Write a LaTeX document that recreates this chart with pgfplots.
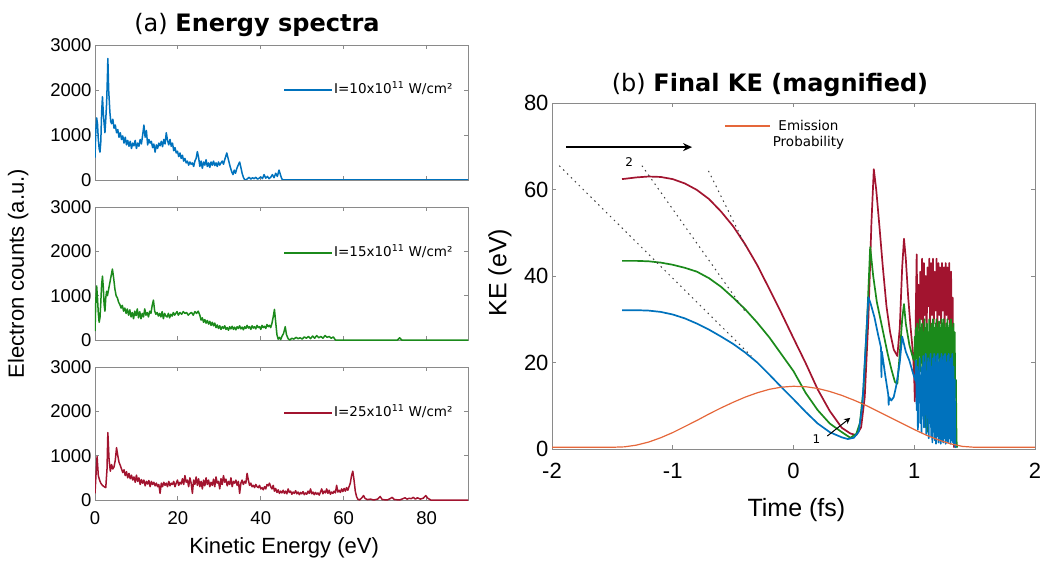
\documentclass[border=0pt]{standalone}
\usepackage{fontspec}
\setmainfont{Liberation Sans}
\newfontfamily\dejavu{DejaVu Sans}
\usepackage{pgfplots}
\usepackage{pgfplotstable}
\pgfplotsset{compat=1.18}
\usetikzlibrary{arrows.meta}
\definecolor{mblue}{HTML}{0072BD}
\definecolor{mgreen}{HTML}{1B8A1B}
\definecolor{mred}{HTML}{A2142F}
\definecolor{morange}{HTML}{E5673A}
\definecolor{axgray}{HTML}{8A8A8A}

\pgfplotstableread[row sep=\\]{x y\\
0.0 500\\ 0.2 1100\\ 0.4 1380\\ 0.6 1250\\ 0.8 900\\ 1.0 700\\ 1.2 620\\ 1.4 850\\ 1.6 1500\\ 1.8 1850\\ 2.0 1500\\ 2.2 1250\\ 2.4 1050\\ 2.6 1350\\ 2.8 1700\\ 3.0 2300\\ 3.1 2700\\ 3.3 2000\\ 3.6 1500\\ 3.8 1300\\ 4.0 1250\\ 4.3 1350\\ 4.6 1150\\ 4.9 1220\\ 5.2 1050\\ 5.5 1120\\ 5.8 950\\ 6.1 1050\\ 6.4 900\\ 6.7 980\\ 7.0 820\\ 7.3 950\\ 7.6 780\\ 7.9 880\\ 8.2 750\\ 8.5 860\\ 8.8 700\\ 9.1 820\\ 9.4 760\\ 9.7 880\\ 10.0 700\\ 10.3 820\\ 10.6 750\\ 10.9 900\\ 11.2 800\\ 11.5 1000\\ 11.8 1220\\ 12.1 950\\ 12.4 1100\\ 12.7 780\\ 13.0 900\\ 13.3 820\\ 13.6 860\\ 13.9 720\\ 14.2 800\\ 14.5 620\\ 14.8 780\\ 15.1 700\\ 15.4 820\\ 15.7 760\\ 16.0 860\\ 16.3 740\\ 16.6 900\\ 16.9 800\\ 17.2 1050\\ 17.5 880\\ 17.8 780\\ 18.1 900\\ 18.4 750\\ 18.7 820\\ 19.0 650\\ 19.3 720\\ 19.6 600\\ 19.9 640\\ 20.2 520\\ 20.5 600\\ 20.8 480\\ 21.1 550\\ 21.4 420\\ 21.7 480\\ 22.0 380\\ 22.3 420\\ 22.6 330\\ 22.9 400\\ 23.2 350\\ 23.5 380\\ 23.8 300\\ 24.1 420\\ 24.4 480\\ 24.7 630\\ 25.0 500\\ 25.3 300\\ 25.6 420\\ 25.9 260\\ 26.2 400\\ 26.5 330\\ 26.8 450\\ 27.1 300\\ 27.4 380\\ 27.7 280\\ 28.0 400\\ 28.3 330\\ 28.6 420\\ 28.9 320\\ 29.2 380\\ 29.5 300\\ 29.8 400\\ 30.1 330\\ 30.4 380\\ 30.7 420\\ 31.0 350\\ 31.3 450\\ 31.8 600\\ 32.2 450\\ 32.6 300\\ 33.0 180\\ 33.3 120\\ 33.6 220\\ 33.9 150\\ 34.2 250\\ 34.5 320\\ 34.9 400\\ 35.2 280\\ 35.5 150\\ 35.8 60\\ 36.1 10\\ 36.4 0\\ 36.8 30\\ 37.2 60\\ 37.6 20\\ 38.0 50\\ 38.4 30\\ 38.8 60\\ 39.2 20\\ 39.6 40\\ 40.0 70\\ 40.4 30\\ 40.8 120\\ 41.2 40\\ 41.6 80\\ 42.0 30\\ 42.4 60\\ 42.8 120\\ 43.2 50\\ 43.6 150\\ 44.0 80\\ 44.4 220\\ 44.8 100\\ 45.1 20\\ 45.5 0\\ 90 0\\
}\tblue

\pgfplotstableread[row sep=\\]{x y\\
0.0 200\\ 0.2 900\\ 0.4 1220\\ 0.6 950\\ 0.8 600\\ 1.0 400\\ 1.2 500\\ 1.4 850\\ 1.6 1250\\ 1.8 1440\\ 2.0 1200\\ 2.2 800\\ 2.4 650\\ 2.6 950\\ 2.8 1100\\ 3.0 1000\\ 3.3 1150\\ 3.6 1300\\ 3.9 1450\\ 4.2 1600\\ 4.5 1400\\ 4.8 1150\\ 5.1 1000\\ 5.4 950\\ 5.7 850\\ 6.0 800\\ 6.3 720\\ 6.6 780\\ 6.9 650\\ 7.2 720\\ 7.5 600\\ 7.8 700\\ 8.1 560\\ 8.4 680\\ 8.7 520\\ 9.0 620\\ 9.3 480\\ 9.6 650\\ 9.9 550\\ 10.2 700\\ 10.5 500\\ 10.8 640\\ 11.1 480\\ 11.4 600\\ 11.7 520\\ 12.0 700\\ 12.3 560\\ 12.6 620\\ 12.9 520\\ 13.2 650\\ 13.5 600\\ 13.8 780\\ 14.1 900\\ 14.4 650\\ 14.7 580\\ 15.0 620\\ 15.3 540\\ 15.6 600\\ 15.9 520\\ 16.2 640\\ 16.5 480\\ 16.8 600\\ 17.1 540\\ 17.4 520\\ 17.7 600\\ 18.0 500\\ 18.3 580\\ 18.6 540\\ 18.9 620\\ 19.2 560\\ 19.5 600\\ 19.8 640\\ 20.1 560\\ 20.5 620\\ 20.9 580\\ 21.3 640\\ 21.7 600\\ 22.1 620\\ 22.5 560\\ 22.9 600\\ 23.3 620\\ 23.7 560\\ 24.1 640\\ 24.5 600\\ 24.9 650\\ 25.3 560\\ 25.6 450\\ 25.9 500\\ 26.2 400\\ 26.5 460\\ 26.8 380\\ 27.1 440\\ 27.4 360\\ 27.7 420\\ 28.0 330\\ 28.3 400\\ 28.6 320\\ 28.9 380\\ 29.2 280\\ 29.5 340\\ 29.8 260\\ 30.1 320\\ 30.4 240\\ 30.7 300\\ 31.0 260\\ 31.3 320\\ 31.6 240\\ 31.9 280\\ 32.2 220\\ 32.5 300\\ 32.8 250\\ 33.1 310\\ 33.4 240\\ 33.7 290\\ 34.0 230\\ 34.3 300\\ 34.6 260\\ 34.9 320\\ 35.2 250\\ 35.5 290\\ 35.8 230\\ 36.1 300\\ 36.4 260\\ 36.7 330\\ 37.0 270\\ 37.3 300\\ 37.6 240\\ 37.9 320\\ 38.2 270\\ 38.5 300\\ 38.8 250\\ 39.1 330\\ 39.4 280\\ 39.7 300\\ 40.0 240\\ 40.3 330\\ 40.6 280\\ 40.9 310\\ 41.2 260\\ 41.5 350\\ 41.8 300\\ 42.1 330\\ 42.4 280\\ 42.7 380\\ 43.0 520\\ 43.3 690\\ 43.6 400\\ 43.9 120\\ 44.2 20\\ 44.5 60\\ 44.8 10\\ 45.1 80\\ 45.5 150\\ 45.9 300\\ 46.2 120\\ 46.6 30\\ 47.0 0\\ 47.5 40\\ 48.0 20\\ 48.5 60\\ 49.0 30\\ 49.5 50\\ 50.0 20\\ 50.5 70\\ 51.0 40\\ 51.5 80\\ 52.0 30\\ 52.5 90\\ 53.0 40\\ 53.5 100\\ 54.0 50\\ 54.5 80\\ 55.0 40\\ 55.5 100\\ 56.0 60\\ 56.5 80\\ 57.0 40\\ 57.5 70\\ 58.0 0\\ 73.0 0\\ 73.5 50\\ 74.0 0\\ 90 0\\
}\tgreen

\pgfplotstableread[row sep=\\]{x y\\
0.0 150\\ 0.2 500\\ 0.5 980\\ 0.8 550\\ 1.1 450\\ 1.4 380\\ 1.8 330\\ 2.2 300\\ 2.6 280\\ 2.9 700\\ 3.1 1520\\ 3.4 900\\ 3.7 650\\ 4.0 800\\ 4.3 700\\ 4.6 750\\ 4.9 900\\ 5.2 1180\\ 5.5 1000\\ 5.8 850\\ 6.1 780\\ 6.4 700\\ 6.7 620\\ 7.0 680\\ 7.3 550\\ 7.6 640\\ 7.9 500\\ 8.2 600\\ 8.5 480\\ 8.8 560\\ 9.1 450\\ 9.4 520\\ 9.7 400\\ 10.0 560\\ 10.3 420\\ 10.6 500\\ 10.9 350\\ 11.2 460\\ 11.5 380\\ 11.8 450\\ 12.1 320\\ 12.4 420\\ 12.7 360\\ 13.0 440\\ 13.3 300\\ 13.6 420\\ 13.9 350\\ 14.2 400\\ 14.5 320\\ 14.8 380\\ 15.1 300\\ 15.4 350\\ 15.7 150\\ 16.0 380\\ 16.3 300\\ 16.6 400\\ 16.9 330\\ 17.2 380\\ 17.5 300\\ 17.8 420\\ 18.1 320\\ 18.4 380\\ 18.7 350\\ 19.0 420\\ 19.3 300\\ 19.6 380\\ 19.9 450\\ 20.2 330\\ 20.5 400\\ 20.8 360\\ 21.1 480\\ 21.4 350\\ 21.7 550\\ 22.0 400\\ 22.3 450\\ 22.6 300\\ 22.9 500\\ 23.2 380\\ 23.5 150\\ 23.8 450\\ 24.1 350\\ 24.4 520\\ 24.7 330\\ 25.0 480\\ 25.3 300\\ 25.6 420\\ 25.9 250\\ 26.2 450\\ 26.5 320\\ 26.8 500\\ 27.1 350\\ 27.4 450\\ 27.7 300\\ 28.0 400\\ 28.3 330\\ 28.6 470\\ 28.9 300\\ 29.2 520\\ 29.5 380\\ 29.8 420\\ 30.1 250\\ 30.4 480\\ 30.7 350\\ 31.0 550\\ 31.3 400\\ 31.6 470\\ 31.9 320\\ 32.2 420\\ 32.5 350\\ 32.8 500\\ 33.1 300\\ 33.4 420\\ 33.7 380\\ 34.0 450\\ 34.3 330\\ 34.6 420\\ 34.9 150\\ 35.2 380\\ 35.5 450\\ 35.8 350\\ 36.1 420\\ 36.4 380\\ 36.7 600\\ 37.0 450\\ 37.3 330\\ 37.6 380\\ 37.9 300\\ 38.2 330\\ 38.5 280\\ 38.8 350\\ 39.1 300\\ 39.4 280\\ 39.7 330\\ 40.0 250\\ 40.3 280\\ 40.6 230\\ 40.9 300\\ 41.2 250\\ 41.5 350\\ 41.8 320\\ 42.1 380\\ 42.4 300\\ 42.7 250\\ 43.0 330\\ 43.3 200\\ 43.6 260\\ 43.9 170\\ 44.2 230\\ 44.5 150\\ 44.8 200\\ 45.1 160\\ 45.4 220\\ 45.7 150\\ 46.0 200\\ 46.3 140\\ 46.6 250\\ 46.9 170\\ 47.2 200\\ 47.5 130\\ 47.8 180\\ 48.1 150\\ 48.4 210\\ 48.7 140\\ 49.0 180\\ 49.3 120\\ 49.6 170\\ 49.9 140\\ 50.2 190\\ 50.5 120\\ 50.8 160\\ 51.1 130\\ 51.4 200\\ 51.7 150\\ 52.0 250\\ 52.3 140\\ 52.6 180\\ 52.9 120\\ 53.2 170\\ 53.5 130\\ 53.8 160\\ 54.1 110\\ 54.4 180\\ 54.7 250\\ 55.0 140\\ 55.3 200\\ 55.6 160\\ 55.9 250\\ 56.2 150\\ 56.5 220\\ 56.8 130\\ 57.1 180\\ 57.4 150\\ 57.7 200\\ 58.0 160\\ 58.3 330\\ 58.6 180\\ 58.9 220\\ 59.2 170\\ 59.5 250\\ 59.8 190\\ 60.1 260\\ 60.4 200\\ 60.7 280\\ 61.0 220\\ 61.3 300\\ 61.6 380\\ 61.9 550\\ 62.2 650\\ 62.5 450\\ 62.8 200\\ 63.1 80\\ 63.4 20\\ 63.8 0\\ 64.4 50\\ 64.8 100\\ 65.2 30\\ 65.8 10\\ 66.5 20\\ 67.2 0\\ 68.2 20\\ 68.8 80\\ 69.3 10\\ 70.5 0\\ 71.2 30\\ 71.7 60\\ 72.2 10\\ 73.5 0\\ 74.3 30\\ 74.8 50\\ 75.3 20\\ 75.8 40\\ 76.3 30\\ 76.8 60\\ 77.3 20\\ 77.8 50\\ 78.5 20\\ 79.2 40\\ 79.8 100\\ 80.3 40\\ 81.0 0\\ 90 0\\
}\tred

% ---- panel (b) ----
\pgfplotstableread[row sep=\\]{t k\\
-1.42 62.4\\ -1.3 62.8\\ -1.2 63.0\\ -1.1 62.9\\ -1.0 62.4\\ -0.9 61.4\\ -0.8 59.9\\ -0.7 57.8\\ -0.6 54.9\\ -0.5 51.5\\ -0.4 47.3\\ -0.3 42.5\\ -0.2 37.0\\ -0.1 31.4\\ 0.0 25.6\\ 0.1 19.9\\ 0.2 13.8\\ 0.3 8.8\\ 0.4 4.9\\ 0.47 3.6\\ 0.52 3.2\\ 0.56 5.0\\ 0.59 12\\ 0.62 30\\ 0.645 52\\ 0.665 64.7\\ 0.685 60\\ 0.71 52\\ 0.74 42\\ 0.77 33\\ 0.80 27\\ 0.83 23\\ 0.86 21.5\\ 0.88 28\\ 0.90 42\\ 0.915 48.6\\ 0.93 44\\ 0.95 35\\ 0.97 28\\ 0.99 22\\ 1.000 16\\ 1.005 11\\ 1.012 30\\ 1.020 45\\ 1.027 28\\ 1.035 38\\ 1.042 25\\ 1.050 41\\ 1.057 30\\ 1.065 44\\ 1.072 27\\ 1.080 43\\ 1.087 31\\ 1.095 40\\ 1.102 26\\ 1.110 42\\ 1.117 33\\ 1.125 44\\ 1.132 28\\ 1.140 43\\ 1.147 31\\ 1.155 44\\ 1.162 29\\ 1.170 41\\ 1.177 32\\ 1.185 44\\ 1.192 28\\ 1.200 43\\ 1.207 31\\ 1.215 42\\ 1.222 29\\ 1.230 43\\ 1.237 32\\ 1.245 42\\ 1.252 28\\ 1.260 43\\ 1.267 31\\ 1.275 42\\ 1.282 30\\ 1.290 43\\ 1.297 27\\ 1.305 41\\ 1.312 20\\ 1.318 35\\ 1.322 10\\ 1.326 3\\ 1.330 0.3\\
}\kred

\pgfplotstableread[row sep=\\]{t k\\
-1.42 43.5\\ -1.3 43.5\\ -1.2 43.4\\ -1.1 43.1\\ -1.0 42.6\\ -0.9 41.9\\ -0.8 41.0\\ -0.7 39.5\\ -0.6 37.5\\ -0.5 35.0\\ -0.4 32.3\\ -0.3 29.2\\ -0.2 25.8\\ -0.1 21.9\\ 0.0 18.0\\ 0.1 13.0\\ 0.2 9.0\\ 0.3 5.9\\ 0.4 3.9\\ 0.47 2.6\\ 0.52 3.5\\ 0.55 6\\ 0.58 14\\ 0.61 30\\ 0.635 46.7\\ 0.66 40\\ 0.69 34\\ 0.72 30\\ 0.75 26\\ 0.78 22\\ 0.81 18.5\\ 0.84 15.5\\ 0.86 15.1\\ 0.88 22\\ 0.90 30\\ 0.915 33.5\\ 0.93 29\\ 0.96 24\\ 0.99 21\\ 1.000 20.5\\ 1.005 26\\ 1.010 18\\ 1.015 28\\ 1.020 21\\ 1.025 29\\ 1.030 17\\ 1.035 27\\ 1.040 22\\ 1.045 30\\ 1.050 18\\ 1.055 28\\ 1.060 20\\ 1.065 29\\ 1.070 14\\ 1.075 27\\ 1.080 19\\ 1.085 30\\ 1.090 5\\ 1.095 28\\ 1.100 18\\ 1.105 29\\ 1.110 4\\ 1.115 27\\ 1.120 19\\ 1.125 30\\ 1.130 15\\ 1.135 28\\ 1.140 20\\ 1.145 29\\ 1.150 16\\ 1.155 30\\ 1.160 19\\ 1.165 28\\ 1.170 17\\ 1.175 29\\ 1.180 20\\ 1.185 30\\ 1.190 18\\ 1.195 28\\ 1.200 21\\ 1.205 29.5\\ 1.210 17\\ 1.215 28\\ 1.220 20\\ 1.225 30\\ 1.230 18\\ 1.235 29\\ 1.240 21\\ 1.245 30\\ 1.250 17\\ 1.255 28\\ 1.260 20\\ 1.265 29\\ 1.270 18\\ 1.275 30\\ 1.280 19\\ 1.285 28\\ 1.290 21\\ 1.295 29\\ 1.300 17\\ 1.305 30\\ 1.310 20\\ 1.315 28\\ 1.320 18\\ 1.325 29\\ 1.330 16\\ 1.335 27\\ 1.340 12\\ 1.345 16\\ 1.350 2\\ 1.355 0.3\\
}\kgreen

\pgfplotstableread[row sep=\\]{t k\\
-1.42 32.1\\ -1.3 32.1\\ -1.2 32.0\\ -1.1 31.7\\ -1.0 31.1\\ -0.9 30.2\\ -0.8 29.0\\ -0.7 27.6\\ -0.6 26.0\\ -0.5 24.3\\ -0.4 22.3\\ -0.3 20.0\\ -0.2 17.2\\ -0.1 14.3\\ 0.0 11.5\\ 0.1 8.6\\ 0.2 5.9\\ 0.3 3.9\\ 0.4 2.7\\ 0.45 2.3\\ 0.5 2.6\\ 0.54 4.0\\ 0.57 10\\ 0.60 25\\ 0.62 35.1\\ 0.64 33.5\\ 0.67 30.5\\ 0.70 26.5\\ 0.725 23.4\\ 0.728 16.6\\ 0.732 22.5\\ 0.76 17\\ 0.785 12.5\\ 0.788 10.2\\ 0.792 12\\ 0.81 11.2\\ 0.83 12\\ 0.85 14.5\\ 0.88 20\\ 0.90 26.0\\ 0.93 22.5\\ 0.96 20.4\\ 0.99 17.5\\ 1.010 15.8\\ 1.015 20.5\\ 1.020 9\\ 1.025 19\\ 1.030 4.5\\ 1.035 18\\ 1.040 12\\ 1.045 21\\ 1.050 6\\ 1.055 17\\ 1.060 3.8\\ 1.065 19\\ 1.070 10\\ 1.075 21.5\\ 1.080 5\\ 1.085 20\\ 1.090 8\\ 1.095 22\\ 1.100 3.5\\ 1.105 18\\ 1.110 11\\ 1.115 21\\ 1.120 2.5\\ 1.125 20\\ 1.130 6\\ 1.135 22\\ 1.140 3\\ 1.145 19\\ 1.150 1.5\\ 1.155 21\\ 1.160 4\\ 1.165 22\\ 1.170 2\\ 1.175 20\\ 1.180 1.2\\ 1.185 21.5\\ 1.190 3\\ 1.195 22\\ 1.200 1.5\\ 1.205 20\\ 1.210 2.5\\ 1.215 21\\ 1.220 1.2\\ 1.225 22\\ 1.230 2\\ 1.235 20.5\\ 1.240 1.5\\ 1.245 21.5\\ 1.250 2.5\\ 1.255 22\\ 1.260 1.2\\ 1.265 20\\ 1.270 2\\ 1.275 21.5\\ 1.280 1.5\\ 1.285 22\\ 1.290 2.5\\ 1.295 20\\ 1.300 1.2\\ 1.305 21\\ 1.310 2\\ 1.315 22\\ 1.320 1.5\\ 1.325 19\\ 1.330 1\\ 1.335 16\\ 1.340 0.5\\ 1.345 0.3\\
}\kblue

\pgfplotstableread[row sep=\\]{t k\\
-2.0 0.4\\ -1.5 0.4\\ -1.4 0.5\\ -1.3 0.9\\ -1.2 1.6\\ -1.1 2.6\\ -1.0 3.8\\ -0.9 5.2\\ -0.8 6.6\\ -0.7 8.1\\ -0.6 9.5\\ -0.5 10.8\\ -0.4 12.0\\ -0.3 13.0\\ -0.2 13.8\\ -0.1 14.3\\ 0.0 14.5\\ 0.1 14.4\\ 0.2 14.0\\ 0.3 13.3\\ 0.4 12.4\\ 0.5 11.3\\ 0.6 10.1\\ 0.7 8.7\\ 0.8 7.3\\ 0.9 5.9\\ 1.0 4.5\\ 1.1 3.2\\ 1.2 2.1\\ 1.3 1.2\\ 1.4 0.6\\ 1.5 0.4\\ 2.0 0.4\\
}\kemis

\pgfplotsset{
  mstyle/.style={
    scale only axis, anchor=south west,
    axis line style={axgray, line width=0.8pt},
    every tick/.style={axgray, line width=0.8pt},
    major tick length=4pt, tick align=inside, tick pos=both,
    /pgf/number format/assume math mode=true,
    /pgf/number format/1000 sep={},
    scaled ticks=false,
  },
  lstyle/.style={
    mstyle, width=373pt, xmin=0, xmax=90, ymin=0, ymax=3000,
    xtick={0,20,40,60,80}, ytick={0,1000,2000,3000},
    tick label style={font=\fontsize{18.5}{20}\selectfont},
    xticklabel style={yshift=-8pt},
  },
}
% legend key: a coloured rule followed by the label, set as one text node
\newcommand{\speckey}[2]{{\color{#1}\rule[\dimexpr0.5ex-1.1pt\relax]{48pt}{2.2pt}}\hspace{2pt}#2}

\begin{document}
\begin{tikzpicture}
\useasboundingbox (0,0) rectangle (1044pt,563pt);

% top
\begin{axis}[lstyle, at={(95pt,383pt)}, height=135pt, xticklabels={}]
\addplot[mblue, line width=1.5pt, line join=round] table[x=x,y=y] {\tblue};
\node[anchor=west, inner sep=0pt, font=\dejavu\fontsize{13.5}{15}\selectfont] at (axis cs:45.6,2040) {\speckey{mblue}{I=10x10\textsuperscript{11} W/cm²}};
\end{axis}

% middle
\begin{axis}[lstyle, at={(95pt,223pt)}, height=133pt, xticklabels={},
  ylabel={Electron counts (a.u.)},
  ylabel style={font=\fontsize{22}{24}\selectfont, at={(axis description cs:-0.206,0.5)}, anchor=center}]
\addplot[mgreen, line width=1.5pt, line join=round] table[x=x,y=y] {\tgreen};
\node[anchor=west, inner sep=0pt, font=\dejavu\fontsize{13.5}{15}\selectfont] at (axis cs:45.6,2000) {\speckey{mgreen}{I=15x10\textsuperscript{11} W/cm²}};
\end{axis}

% bottom
\begin{axis}[lstyle, at={(95pt,63pt)}, height=133pt,
  xlabel={Kinetic Energy (eV)},
  xlabel style={font=\fontsize{22}{24}\selectfont, at={(axis description cs:0.507,-0.36)}, anchor=center}]
\addplot[mred, line width=1.5pt, line join=round] table[x=x,y=y] {\tred};
\node[anchor=west, inner sep=0pt, font=\dejavu\fontsize{13.5}{15}\selectfont] at (axis cs:45.6,2000) {\speckey{mred}{I=25x10\textsuperscript{11} W/cm²}};
\end{axis}

% right panel
\begin{axis}[mstyle, at={(552pt,114pt)}, width=483pt, height=346pt,
  xmin=-2, xmax=2, ymin=0, ymax=80,
  xtick={-2,-1,0,1,2}, ytick={0,20,40,60,80},
  tick label style={font=\fontsize{22}{24}\selectfont},
  xticklabel style={yshift=-11pt},
  xlabel={Time (fs)}, ylabel={KE (eV)},
  xlabel style={font=\fontsize{25}{27}\selectfont, at={(axis description cs:0.506,-0.177)}, anchor=center},
  ylabel style={font=\fontsize{25}{27}\selectfont, at={(axis description cs:-0.108,0.51)}, anchor=center},
  legend style={at={(0.357,0.958)}, anchor=north west, draw=none, fill=none,
    font=\dejavu\fontsize{13.5}{15.5}\selectfont, inner sep=0pt},
  legend image code/.code={\draw[morange, line width=1.2pt] (0pt,0pt) -- (45pt,0pt);},
]
\addplot[mred, line width=1.7pt, line join=round, forget plot] table[x=t,y=k] {\kred};
\addplot[mgreen, line width=1.7pt, line join=round, forget plot] table[x=t,y=k] {\kgreen};
\addplot[mblue, line width=1.7pt, line join=round, forget plot] table[x=t,y=k] {\kblue};
% dotted tangent lines
\addplot[black!75, line width=1pt, dash pattern=on 1.5pt off 4pt, forget plot] coordinates {(-1.94,65.5) (-0.35,21.5)};
\addplot[black!75, line width=1pt, dash pattern=on 1.5pt off 4pt, forget plot] coordinates {(-1.255,65.5) (-0.40,31.8)};
\addplot[black!75, line width=1pt, dash pattern=on 1.5pt off 4pt, forget plot] coordinates {(-0.704,64.3) (-0.38,46.0)};
% arrows
\addplot[black, line width=1.6pt, -{Stealth[length=9pt,width=8pt,open]}, forget plot] coordinates {(-1.88,69.8) (-0.84,69.8)};
\addplot[black, line width=1.0pt, -{Stealth[length=6pt,width=6pt,open]}, forget plot] coordinates {(0.28,3.0) (0.47,7.2)};
\node[font=\dejavu\fontsize{12}{13}\selectfont] at (axis cs:-1.36,66.4) {2};
\node[font=\dejavu\fontsize{12}{13}\selectfont] at (axis cs:0.19,2.2) {1};
\addplot[morange, line width=1.2pt] table[x=t,y=k] {\kemis};
\addlegendentry{\begin{tabular}[t]{@{}c@{}}Emission\\Probability\end{tabular}}
\end{axis}

% titles
\node[anchor=base, font=\dejavu\fontsize{24}{26}\selectfont] at (257pt,531pt) {(a) \textbf{Energy spectra}};
\node[anchor=base, font=\dejavu\fontsize{24}{26}\selectfont] at (770pt,471pt) {(b) \textbf{Final KE (magnified)}};
\end{tikzpicture}
\end{document}
